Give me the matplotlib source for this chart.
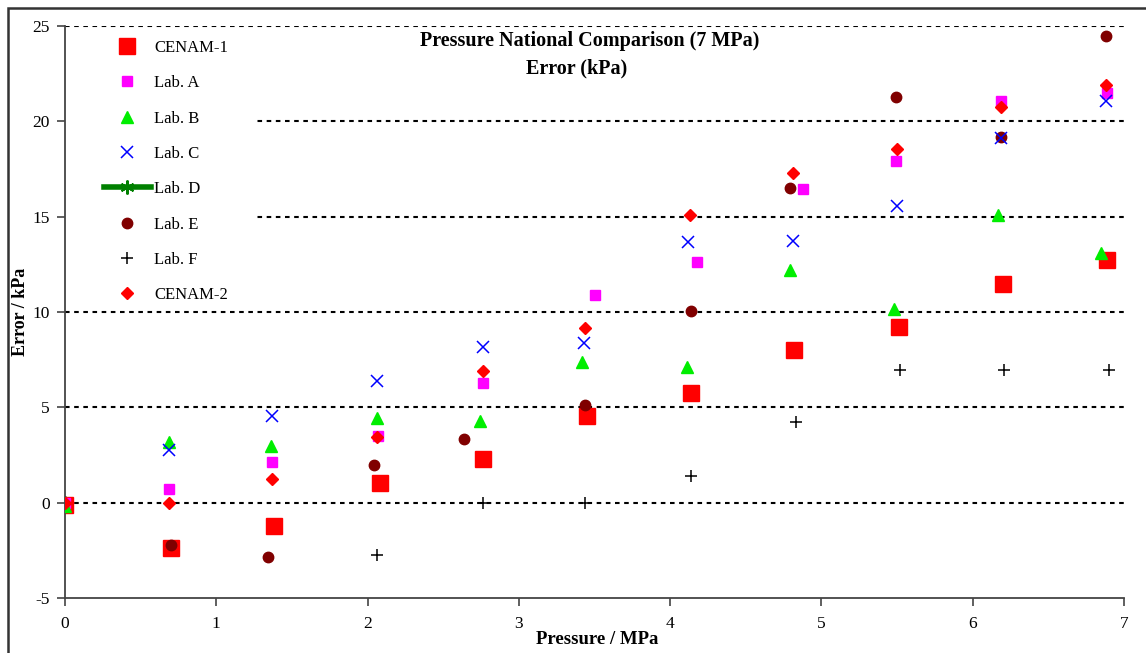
import matplotlib.pyplot as plt
from matplotlib.patches import Rectangle

plt.rcParams['font.family'] = ['Liberation Serif', 'DejaVu Serif']
plt.rcParams['axes.unicode_minus'] = False

# pressure points (MPa) and errors (kPa)
cenam1_x = [0.0, 0.70, 1.38, 2.08, 2.76, 3.45, 4.14, 4.82, 5.51, 6.20, 6.89]
cenam1_y = [-0.1, -2.4, -1.2, 1.05, 2.3, 4.55, 5.77, 8.0, 9.22, 11.48, 12.74]

laba_x = [0.0, 0.69, 1.37, 2.07, 2.76, 3.50, 4.18, 4.88, 5.49, 6.19, 6.89]
laba_y = [0.0, 0.73, 2.15, 3.5, 6.29, 10.9, 12.63, 16.46, 17.92, 21.07, 21.5]

labb_x = [0.0, 0.69, 1.36, 2.06, 2.74, 3.42, 4.11, 4.79, 5.48, 6.17, 6.85]
labb_y = [-0.2, 3.2, 2.95, 4.45, 4.3, 7.4, 7.1, 12.2, 10.15, 15.1, 13.1]

labc_x = [0.69, 1.37, 2.06, 2.76, 3.43, 4.12, 4.81, 5.50, 6.19, 6.88]
labc_y = [2.75, 4.55, 6.4, 8.17, 8.37, 13.66, 13.73, 15.55, 19.1, 21.05]

labd_x = [0.0]
labd_y = [0.0]

labe_x = [0.0, 0.70, 1.34, 2.04, 2.64, 3.44, 4.14, 4.79, 5.49, 6.19, 6.88]
labe_y = [0.0, -2.2, -2.83, 2.0, 3.35, 5.14, 10.06, 16.5, 21.28, 19.18, 24.48]

labf_x = [2.06, 2.76, 3.44, 4.14, 4.83, 5.52, 6.21, 6.90]
labf_y = [-2.73, 0.0, 0.0, 1.42, 4.25, 6.97, 6.97, 6.97]

cenam2_x = [0.0, 0.69, 1.37, 2.06, 2.76, 3.44, 4.13, 4.81, 5.50, 6.19, 6.88]
cenam2_y = [0.0, 0.0, 1.26, 3.46, 6.92, 9.17, 15.09, 17.3, 18.55, 20.75, 21.9]

W, H = 1146, 653
fig = plt.figure(figsize=(W / 100, H / 100), dpi=100)
# outer frame round the whole chart
fig.patches.append(Rectangle((8 / W, -0.05), 1.1, 1 - 8 / H + 0.05,
                             transform=fig.transFigure, fill=False,
                             edgecolor='#333333', lw=1.8))

ax = fig.add_axes([65 / W, 1 - 598 / H, (1124 - 65) / W, (598 - 26) / H])
ax.set_xlim(0, 7)
ax.set_ylim(-5, 25)

for yv in [0, 5, 10, 15, 20, 25]:
    ax.axhline(yv, color='black', ls=(0, (2.2, 2.2)), lw=1.5, zorder=1)

# white block behind the legend hides the grid there
ax.add_patch(Rectangle((0, 1 - (300 - 26) / 572), (255 - 65) / 1059, (300 - 36) / 572,
                       transform=ax.transAxes, facecolor='white',
                       edgecolor='none', zorder=1.5))

ax.plot(labd_x, labd_y, color='green', lw=4, marker=(6, 2, 0), ms=10, mew=1.5,
        label='Lab. D', zorder=2)
ax.plot(labe_x, labe_y, ls='none', marker='o', ms=7.5, color='#800000', label='Lab. E', zorder=3)
ax.plot(cenam1_x, cenam1_y, ls='none', marker='s', ms=12, color='red', label='CENAM-1', zorder=2)
ax.plot(laba_x, laba_y, ls='none', marker='s', ms=7.5, color='magenta', label='Lab. A', zorder=3)
ax.plot(labb_x, labb_y, ls='none', marker='^', ms=8, color='#00ee00', label='Lab. B', zorder=3)
ax.plot(labc_x, labc_y, ls='none', marker='x', ms=8, mew=1.1, color='blue', label='Lab. C', zorder=3)
ax.plot(labf_x, labf_y, ls='none', marker='+', ms=9, mew=1.1, color='black', label='Lab. F', zorder=3)
ax.plot(cenam2_x, cenam2_y, ls='none', marker='D', ms=6, color='red', label='CENAM-2', zorder=4)

handles, labels = ax.get_legend_handles_labels()
order = ['CENAM-1', 'Lab. A', 'Lab. B', 'Lab. C', 'Lab. D', 'Lab. E', 'Lab. F', 'CENAM-2']
hmap = dict(zip(labels, handles))
leg = ax.legend([hmap[k] for k in order], order, loc='upper left',
                bbox_to_anchor=((104 - 65) / 1059, 1 - (40 - 26) / 572),
                frameon=False, fontsize=12, labelspacing=1.16,
                handlelength=2.8, handletextpad=0.2, borderpad=0,
                borderaxespad=0)
for t in leg.get_texts():
    t.set_fontstretch('expanded')
leg.set_zorder(5)

for s in ['top', 'right']:
    ax.spines[s].set_visible(False)
for s in ['left', 'bottom']:
    ax.spines[s].set_color('#444444')
    ax.spines[s].set_linewidth(1.3)

ax.set_xticks(range(0, 8))
ax.set_yticks(range(-5, 26, 5))
ax.tick_params(direction='out', length=6, width=1.2, color='#444444',
               labelsize=12.5)
ax.tick_params(axis='y', pad=5)
ax.tick_params(axis='x', pad=7)

ax.set_xlabel('Pressure / MPa', fontsize=13.5, fontweight='bold')
ax.set_ylabel('Error / kPa', fontsize=13, fontweight='bold')
ax.xaxis.set_label_coords((597 - 65) / 1059, -(640 - 598) / 572)
ax.yaxis.set_label_coords(-(65 - 21) / 1059, 1 - (312 - 26) / 572)
ax.xaxis.label.set_va('center')
ax.yaxis.label.set_va('center')

fig.text(590 / W, 1 - 41 / H, 'Pressure National Comparison (7 MPa)',
         ha='center', va='center', fontsize=14.5, fontweight='bold')
fig.text(577 / W, 1 - 68 / H, 'Error (kPa)',
         ha='center', va='center', fontsize=14.5, fontweight='bold')

fig.savefig('out.png', dpi=100)
